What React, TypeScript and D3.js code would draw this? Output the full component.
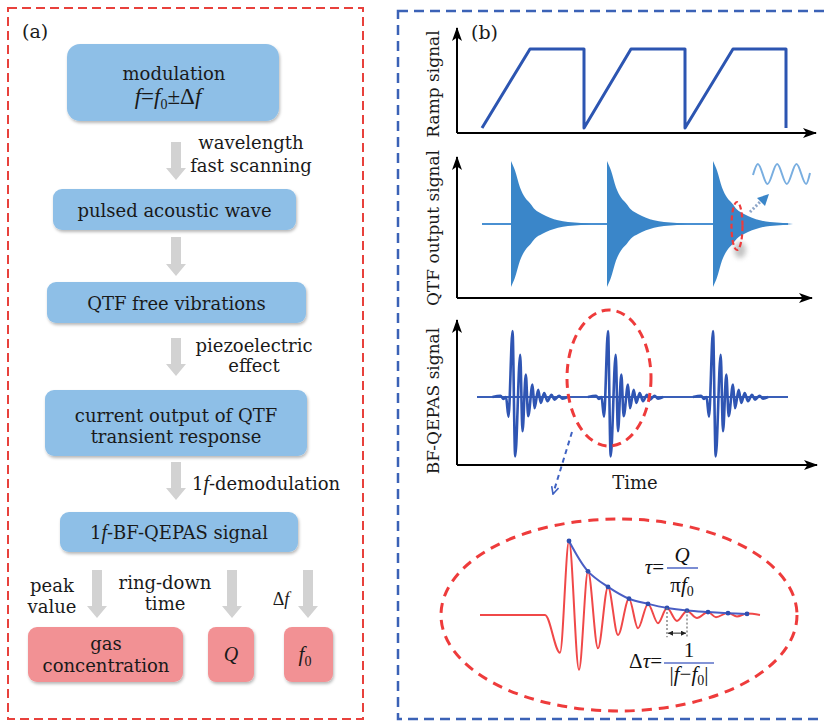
import React from 'react'
import * as d3 from 'd3'

// ---- (a) flow chart text ----
const stepLabels = [
  ['pulsed acoustic wave'],
  ['QTF free vibrations'],
  ['current output of QTF', 'transient response'],
]
const stepNotes = [
  ['wavelength', 'fast scanning'],
  [],
  ['piezoelectric', 'effect'],
]
const resultNotes = [['peak', 'value'], ['ring-down', 'time'], ['Δf']]

// ---- (b) signal traces ----
const panelNames = ['Ramp signal', 'QTF output signal', 'BF-QEPAS signal']

// ramp: time (a.u.) and level
const rampTime = [0.25, 0.73, 1.27, 1.27, 1.74, 2.28, 2.28, 2.76, 3.29, 3.29]
const rampLevel = [0, 1, 1, 0, 1, 1, 0, 1, 1, 0]

// QTF free ring-down bursts: start times and envelope shape
const ringStart = [0.54, 1.5, 2.56]
const ringOffset = [0, 0.04, 0.09, 0.14, 0.19, 0.24, 0.31, 0.39, 0.47, 0.57, 0.7, 0.8]
const ringEnvelope = [1, 0.85, 0.58, 0.42, 0.33, 0.23, 0.16, 0.1, 0.06, 0.03, 0.015, 0]

// BF-QEPAS beat bursts: main peak times and extrema of one burst
const beatPeak = [0.555, 1.51, 2.56]
const beatOffset = [-0.2, -0.12, -0.09, -0.065, -0.04, 0, 0.027, 0.077, 0.1, 0.133, 0.157, 0.2, 0.22, 0.257, 0.283, 0.317, 0.35, 0.39, 0.42, 0.467, 0.5, 0.55]
const beatValue = [0, 0.02, -0.03, 0, -0.3, 1, -0.9, 0.64, -0.52, 0.34, -0.29, 0.19, -0.17, 0.11, -0.09, 0.06, -0.065, 0.035, -0.04, 0.02, -0.025, 0]

// zoomed decay (red) and its envelope (blue)
const decayTime = [0, 6.5, 8.0, 8.9, 9.9, 10.8, 11.8, 12.8, 13.8, 14.9, 15.8, 16.8, 17.8, 18.7, 19.7, 20.7, 21.7, 22.8, 23.6, 24.8, 25.7, 26.7, 28]
const decayValue = [0, 0, -0.51, 1, -0.74, 0.59, -0.45, 0.38, -0.27, 0.22, -0.18, 0.15, -0.11, 0.095, -0.08, 0.055, -0.04, 0.04, -0.03, 0.03, -0.02, 0.02, 0]
const envTime = [8.9, 10.8, 12.8, 14.9, 16.8, 18.7, 20.7, 22.8, 24.8, 26.7]
const envValue = [1, 0.59, 0.38, 0.22, 0.15, 0.095, 0.06, 0.04, 0.025, 0.015]
const beatMarks = [18.7, 20.7]

// small sine icon
const sineTime = [0, 0.5, 1.5, 2.5, 3.5, 4.5, 5.5, 5.9]
const sineValue = [-0.1, 1, -1, 1, -1, 1, -1, 0.1]

const SERIF = "'DejaVu Serif', serif"
const MATH = "'Liberation Serif', 'Times New Roman', serif"
const BOX_BLUE = '#8ebfe7'
const BOX_RED = '#f29194'
const ARROW_GRAY = '#d2d2d2'

const blockArrow = (cx: number, y0: number, y1: number) => {
  const s = 5, h = 10, hl = 12
  return `M${cx - s},${y0} L${cx + s},${y0} L${cx + s},${y1 - hl} L${cx + h},${y1 - hl} L${cx},${y1} L${cx - h},${y1 - hl} L${cx - s},${y1 - hl} Z`
}

const App = () => {
  const timeX = d3.scaleLinear().domain([0, 3.6]).range([457, 817])
  const rampY = d3.scaleLinear().domain([0, 1]).range([128, 49])
  const ringY = d3.scaleLinear().domain([-1, 1]).range([287, 161])
  const beatY = d3.scaleLinear().domain([-1, 1]).range([463, 331])
  const zX = d3.scaleLinear().domain([0, 28]).range([480, 760])
  const zY = d3.scaleLinear().domain([-1, 1]).range([689, 541])
  const sX = d3.scaleLinear().domain([0, 5.9]).range([753, 810])
  const sY = d3.scaleLinear().domain([-1, 1]).range([184, 164])

  const rampPath = d3.line<number>()
    .x((_, i) => timeX(rampTime[i]))
    .y(d => rampY(d))(rampLevel)

  const ringArea = (t0: number) => d3.area<number>()
    .x((_, i) => timeX(t0 + ringOffset[i]))
    .y0(d => ringY(-d))
    .y1(d => ringY(d))
    .curve(d3.curveMonotoneX)(ringEnvelope)

  const beatPath = (t0: number) => d3.line<number>()
    .x((_, i) => timeX(t0 + beatOffset[i]))
    .y(d => beatY(d))
    .curve(d3.curveMonotoneX)(beatValue)

  const decayPath = d3.line<number>()
    .x((_, i) => zX(decayTime[i]))
    .y(d => zY(d))
    .curve(d3.curveMonotoneX)(decayValue)

  const envPath = d3.line<number>()
    .x((_, i) => zX(envTime[i]))
    .y(d => zY(d))
    .curve(d3.curveCatmullRom)(envValue)

  const sinePath = d3.line<number>()
    .x((_, i) => sX(sineTime[i]))
    .y(d => sY(d))
    .curve(d3.curveMonotoneX)(sineValue)

  const axes = [
    { y0: 133, top: 28, tip: 816 },
    { y0: 298, top: 157, tip: 812 },
    { y0: 465, top: 320, tip: 817 },
  ]
  const labelY = [84, 228, 401]

  // box layout for (a)
  const stepBoxes = [
    { x: 53, y: 189, w: 243, h: 41 },
    { x: 47, y: 282, w: 259, h: 41 },
    { x: 45, y: 390, w: 262, h: 66 },
  ]
  const stepArrows = [[142, 180], [237, 276], [338, 376], [462, 500]]
  const noteAt = [
    { x: 251, y: [149, 172] },
    { x: 0, y: [] },
    { x: 254, y: [352, 372] },
  ]
  const resultArrowX = [97, 232, 308]
  const resultNoteAt = [
    { x: 52, y: [592, 613] },
    { x: 165, y: [589, 610] },
    { x: 281, y: [605] },
  ]

  return (
    <div style={{ position: 'absolute', left: 0, top: 0 }}>
      <svg width={824} height={723} style={{ display: 'block', background: '#fff' }}>
        <defs>
          <filter id="shadow" x="-10%" y="-10%" width="130%" height="140%">
            <feDropShadow dx="1" dy="2" stdDeviation="1.8" floodColor="#000" floodOpacity="0.28" />
          </filter>
          <filter id="blur" x="-50%" y="-50%" width="200%" height="200%">
            <feGaussianBlur stdDeviation="2.5" />
          </filter>
          <marker id="axArrow" viewBox="0 0 14 10" refX="13" refY="5" markerWidth="14" markerHeight="10"
            markerUnits="userSpaceOnUse" orient="auto">
            <path d="M0,0 L14,5 L0,10 L3.5,5 Z" fill="#000" />
          </marker>
          <marker id="tinyArrow" viewBox="0 0 6 6" refX="6" refY="3" markerWidth="5" markerHeight="5"
            markerUnits="userSpaceOnUse" orient="auto-start-reverse">
            <path d="M0,0 L6,3 L0,6 Z" fill="#222" />
          </marker>
          <marker id="openArrow" viewBox="0 0 10 10" refX="9" refY="5" markerWidth="9" markerHeight="9"
            markerUnits="userSpaceOnUse" orient="auto">
            <path d="M1,1 L9,5 L1,9" fill="none" stroke="#3f62c2" strokeWidth="1.8" />
          </marker>
        </defs>

        {/* frames */}
        <rect x={8} y={8} width={355} height={711} fill="none" stroke="#e8413c" strokeWidth={2} strokeDasharray="9 5" />
        <rect x={398} y={11} width={440} height={708} fill="none" stroke="#3b62b6" strokeWidth={2.5} strokeDasharray="10 6" />

        {/* ---------- (a) ---------- */}
        <g fontFamily={SERIF} fill="#1a1a1a">
          <text x={22} y={38} fontSize={19}>(a)</text>

          {stepArrows.map(([a, b], i) => (
            <path key={i} d={blockArrow(176, a, b)} fill={ARROW_GRAY} />
          ))}
          {resultArrowX.map((x, i) => (
            <path key={i} d={blockArrow(x, 570, 618)} fill={ARROW_GRAY} />
          ))}

          {/* modulation box */}
          <rect x={67} y={44} width={212} height={77} rx={13} fill={BOX_BLUE} filter="url(#shadow)" />
          <text x={174} y={80} fontSize={18} textAnchor="middle">modulation</text>
          <text x={168} y={104} fontSize={23} textAnchor="middle" fontFamily={MATH}>
            <tspan fontStyle="italic">f</tspan>=<tspan fontStyle="italic">f</tspan>
            <tspan fontSize={14} dy={5}>0</tspan><tspan dy={-5}>±Δ</tspan><tspan fontStyle="italic">f</tspan>
          </text>

          {stepBoxes.map((b, i) => (
            <g key={i}>
              <rect x={b.x} y={b.y} width={b.w} height={b.h} rx={9} fill={BOX_BLUE} filter="url(#shadow)" />
              {stepLabels[i].map((l, j) => (
                <text key={j} x={b.x + b.w / 2} fontSize={18} textAnchor="middle"
                  y={stepLabels[i].length === 1 ? b.y + b.h / 2 + 7 : b.y + 32 + j * 21}>{l}</text>
              ))}
            </g>
          ))}
          {stepNotes.map((n, i) => n.map((l, j) => (
            <text key={i + '-' + j} x={noteAt[i].x} y={noteAt[i].y[j]} fontSize={18} textAnchor="middle">{l}</text>
          )))}

          <text x={192} y={490} fontSize={18}>1<tspan fontStyle="italic" fontFamily={MATH} fontSize={20}>f</tspan>-demodulation</text>

          <rect x={60} y={512} width={238} height={40} rx={9} fill={BOX_BLUE} filter="url(#shadow)" />
          <text x={179} y={539} fontSize={18} textAnchor="middle">1<tspan fontStyle="italic" fontFamily={MATH} fontSize={20}>f</tspan>-BF-QEPAS signal</text>

          {resultNotes.map((n, i) => n.map((l, j) => (
            <text key={i + '-' + j} x={resultNoteAt[i].x} y={resultNoteAt[i].y[j]} fontSize={18} textAnchor="middle"
              fontFamily={l === 'Δf' ? MATH : SERIF}>
              {l === 'Δf' ? <>Δ<tspan fontStyle="italic">f</tspan></> : l}
            </text>
          )))}

          <rect x={28} y={627} width={155} height={55} rx={9} fill={BOX_RED} filter="url(#shadow)" />
          <text x={106} y={650} fontSize={18} textAnchor="middle">gas</text>
          <text x={106} y={672} fontSize={18} textAnchor="middle">concentration</text>
          <rect x={208} y={627} width={46} height={55} rx={8} fill={BOX_RED} filter="url(#shadow)" />
          <text x={231} y={661} fontSize={20} textAnchor="middle" fontFamily={MATH} fontStyle="italic">Q</text>
          <rect x={284} y={627} width={49} height={55} rx={8} fill={BOX_RED} filter="url(#shadow)" />
          <text x={305} y={661} fontSize={21} textAnchor="middle" fontFamily={MATH}>
            <tspan fontStyle="italic">f</tspan><tspan fontSize={14} dy={5}>0</tspan>
          </text>
        </g>

        {/* ---------- (b) ---------- */}
        <g fontFamily={SERIF} fill="#1a1a1a">
          <text x={471} y={39} fontSize={19}>(b)</text>
          {panelNames.map((n, i) => (
            <text key={n} fontSize={17} textAnchor="middle" transform={`translate(439, ${labelY[i]}) rotate(-90)`}>{n}</text>
          ))}
          <text x={635} y={489} fontSize={18} textAnchor="middle">Time</text>
        </g>

        {axes.map((a, i) => (
          <g key={i} stroke="#000" strokeWidth={2} fill="none">
            <line x1={457} y1={a.y0} x2={457} y2={a.top} markerEnd="url(#axArrow)" />
            <line x1={457} y1={a.y0} x2={a.tip} y2={a.y0} markerEnd="url(#axArrow)" />
          </g>
        ))}

        {/* ramp */}
        <path d={rampPath ?? ''} fill="none" stroke="#2c55b1" strokeWidth={3} strokeLinejoin="round" />

        {/* QTF ring-down */}
        <line x1={timeX(0.25)} x2={timeX(3.31)} y1={ringY(0)} y2={ringY(0)} stroke="#4a90d2" strokeWidth={2} />
        {ringStart.map(t => (
          <path key={t} d={ringArea(t) ?? ''} fill="#3a86c9" />
        ))}
        <ellipse cx={740} cy={250} rx={6} ry={8} fill="#888" opacity={0.5} filter="url(#blur)" />
        <ellipse cx={737} cy={226} rx={5.5} ry={24} fill="none" stroke="#ee3b3b" strokeWidth={2.2} strokeDasharray="5 3" />
        <line x1={750} y1={212} x2={761} y2={201} stroke="#8ea6c8" strokeWidth={3} strokeDasharray="2 2" />
        <path d="M769,194 L757,198 L765,206 Z" fill="#3a86c9" />
        <path d={sinePath ?? ''} fill="none" stroke="#79aee0" strokeWidth={2} />

        {/* BF-QEPAS */}
        <line x1={timeX(0.2)} x2={timeX(3.31)} y1={beatY(0)} y2={beatY(0)} stroke="#3a5fb8" strokeWidth={2} />
        {beatPeak.map(t => (
          <path key={t} d={beatPath(t) ?? ''} fill="none" stroke="#2f55b3" strokeWidth={2.6} strokeLinejoin="round" />
        ))}
        <ellipse cx={609} cy={378} rx={42} ry={68} fill="none" stroke="#ee3b3b" strokeWidth={3} strokeDasharray="9 6" />
        <line x1={572} y1={432} x2={553} y2={494} stroke="#3f62c2" strokeWidth={2} strokeDasharray="5 4" markerEnd="url(#openArrow)" />

        {/* zoomed decay */}
        <ellipse cx={619} cy={615} rx={178} ry={96} fill="none" stroke="#ee3b3b" strokeWidth={3} strokeDasharray="10 7" />
        <path d={decayPath ?? ''} fill="none" stroke="#f04848" strokeWidth={2} />
        <path d={envPath ?? ''} fill="none" stroke="#4a5ec4" strokeWidth={2} />
        {envTime.map((t, i) => (
          <circle key={t} cx={zX(t)} cy={zY(envValue[i])} r={2.4} fill="#2f4fb0" />
        ))}
        {beatMarks.map((t, i) => (
          <line key={t} x1={zX(t)} x2={zX(t)} y1={zY(envValue[5 + i])} y2={zY(-0.3)} stroke="#777" strokeWidth={1.3} strokeDasharray="2 2" />
        ))}
        <line x1={zX(beatMarks[0]) + 1} x2={zX(beatMarks[1]) - 1} y1={zY(-0.245)} y2={zY(-0.245)} stroke="#222" strokeWidth={1}
          markerStart="url(#tinyArrow)" markerEnd="url(#tinyArrow)" />

        <g fontFamily={MATH} fill="#111" fontSize={21}>
          <text x={664} y={574} textAnchor="end"><tspan fontStyle="italic">τ</tspan>=</text>
          <line x1={667} x2={698} y1={568} y2={568} stroke="#5a70c8" strokeWidth={1.6} />
          <text x={682} y={562} textAnchor="middle" fontStyle="italic">Q</text>
          <text x={682} y={592} textAnchor="middle">π<tspan fontStyle="italic">f</tspan><tspan fontSize={14} dy={4}>0</tspan></text>

          <text x={662} y={668} textAnchor="end">Δ<tspan fontStyle="italic">τ</tspan>=</text>
          <line x1={664} x2={714} y1={663} y2={663} stroke="#5a70c8" strokeWidth={1.6} />
          <text x={689} y={657} textAnchor="middle">1</text>
          <text x={689} y={681} textAnchor="middle">|<tspan fontStyle="italic">f</tspan>−<tspan fontStyle="italic">f</tspan><tspan fontSize={14} dy={4}>0</tspan><tspan dy={-4}>|</tspan></text>
        </g>
      </svg>
    </div>
  )
}

export default App
